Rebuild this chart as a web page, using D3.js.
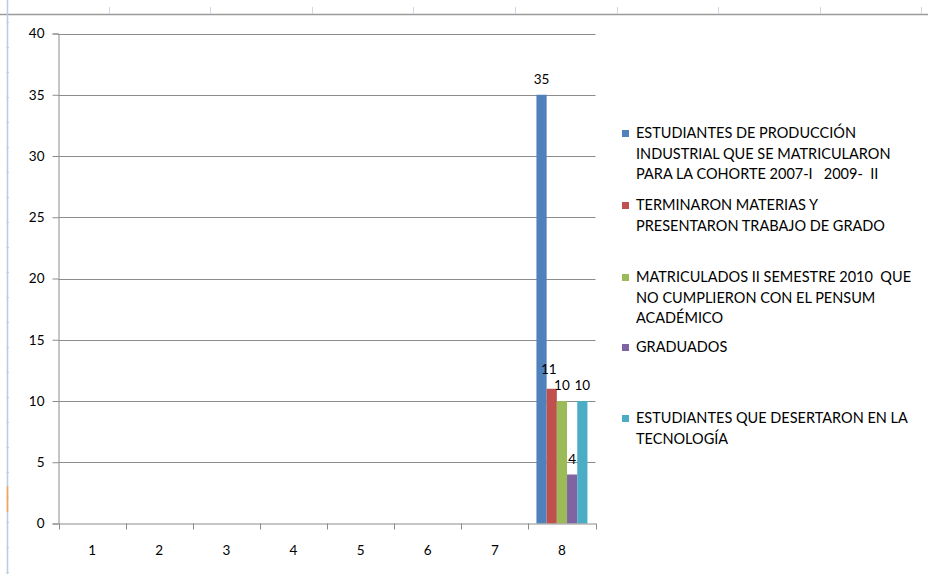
<!DOCTYPE html>
<html>
<head>
<meta charset="utf-8">
<script src="https://cdn.jsdelivr.net/npm/d3@7"></script>
<style>
  html, body { margin: 0; padding: 0; background: #fff; }
  svg { display: block; }
  text { font-family: Lato, "Open Sans", sans-serif; }
</style>
</head>
<body>
<svg id="chart" width="928" height="574"></svg>
<script>
// ---- data ----
const categories = ["1", "2", "3", "4", "5", "6", "7", "8"];
const seriesNames = [
  ["ESTUDIANTES DE PRODUCCIÓN", "INDUSTRIAL QUE SE MATRICULARON", "PARA LA COHORTE 2007-I   2009-  II"],
  ["TERMINARON MATERIAS Y", "PRESENTARON TRABAJO DE GRADO"],
  ["MATRICULADOS II SEMESTRE 2010  QUE", "NO CUMPLIERON CON EL PENSUM", "ACADÉMICO"],
  ["GRADUADOS"],
  ["ESTUDIANTES QUE DESERTARON EN LA", "TECNOLOGÍA"]
];
const seriesColors = ["#4f81bd", "#c0504d", "#9bbb59", "#8064a2", "#4bacc6"];
const s1 = [null, null, null, null, null, null, null, 35];
const s2 = [null, null, null, null, null, null, null, 11];
const s3 = [null, null, null, null, null, null, null, 10];
const s4 = [null, null, null, null, null, null, null, 4];
const s5 = [null, null, null, null, null, null, null, 10];
const seriesValues = [s1, s2, s3, s4, s5];
const yTicks = [0, 5, 10, 15, 20, 25, 30, 35, 40];

// ---- layout ----
const svg = d3.select("#chart");
const plot = { left: 58.5, right: 595.5, top: 33.5, bottom: 523.5 };

// spreadsheet background decoration
const deco = svg.append("g");
deco.append("line").attr("x1", 0).attr("x2", 928).attr("y1", 14.5).attr("y2", 14.5)
  .attr("stroke", "#9a9a9a").attr("stroke-width", 1.5);
d3.range(7, 928, 101.6).forEach(x => {
  deco.append("line").attr("x1", Math.round(x) + 0.5).attr("x2", Math.round(x) + 0.5)
    .attr("y1", 7).attr("y2", 14).attr("stroke", "#d0d7e5");
});
deco.append("line").attr("x1", 7.5).attr("x2", 7.5).attr("y1", 0).attr("y2", 574)
  .attr("stroke", "#b8cce4").attr("stroke-width", 1.5);
d3.range(22, 574, 25).forEach(y => {
  deco.append("line").attr("x1", 6).attr("x2", 9).attr("y1", y + 0.5).attr("y2", y + 0.5)
    .attr("stroke", "#c3d3e8");
});
deco.append("line").attr("x1", 7.5).attr("x2", 7.5).attr("y1", 486).attr("y2", 512)
  .attr("stroke", "#f7a44a").attr("stroke-width", 1.5);

const x = d3.scaleBand().domain(categories).range([plot.left, plot.right]).padding(0);
const gapFrac = 0.12;
const xs = d3.scaleBand().domain(d3.range(seriesValues.length))
  .range([x.bandwidth() * gapFrac, x.bandwidth() * (1 - gapFrac)]).padding(0);
const y = d3.scaleLinear().domain([0, 40]).range([plot.bottom, plot.top]);

// gridlines
svg.append("g").selectAll("line").data(yTicks.filter(d => d > 0)).join("line")
  .attr("x1", plot.left).attr("x2", plot.right)
  .attr("y1", d => Math.round(y(d)) + 0.5).attr("y2", d => Math.round(y(d)) + 0.5)
  .attr("stroke", "#8c8c8c").attr("stroke-width", 1);

// y axis
const yAxis = svg.append("g").attr("transform", `translate(${plot.left},0)`)
  .call(d3.axisLeft(y).tickValues(yTicks).tickSize(6).tickPadding(8));
yAxis.select(".domain").attr("stroke", "#8c8c8c");
yAxis.selectAll(".tick line").attr("stroke", "#8c8c8c");
yAxis.selectAll(".tick text").attr("font-size", 13.5).attr("fill", "#000")
  .style("font-family", "Lato, sans-serif");

// bars
const bars = svg.append("g");
seriesValues.forEach((vals, si) => {
  bars.append("g").selectAll("rect")
    .data(vals.map((v, i) => ({ v, c: categories[i] })).filter(d => d.v != null))
    .join("rect")
    .attr("x", d => x(d.c) + xs(si))
    .attr("width", xs.bandwidth())
    .attr("y", d => y(d.v))
    .attr("height", d => y(0) - y(d.v))
    .attr("fill", seriesColors[si]);
});

// x axis
const xAxis = svg.append("g").attr("transform", `translate(0,${plot.bottom})`)
  .call(d3.axisBottom(x).tickSize(0).tickPadding(22));
xAxis.select(".domain").attr("stroke", "#8c8c8c");
xAxis.selectAll(".tick text").attr("font-size", 13.5).attr("fill", "#000")
  .style("font-family", "Lato, sans-serif");
// category boundary ticks
svg.append("g").selectAll("line").data(categories.concat(["end"])).join("line")
  .attr("x1", (d, i) => Math.round(plot.left + i * x.bandwidth()) + 0.5)
  .attr("x2", (d, i) => Math.round(plot.left + i * x.bandwidth()) + 0.5)
  .attr("y1", plot.bottom).attr("y2", plot.bottom + 6)
  .attr("stroke", "#8c8c8c");

// data labels (Excel nudged the crowded second label up-left)
const labelNudge = [[0, 0], [-3, -4], [0, 0], [0, 0], [0, 0]];
seriesValues.forEach((vals, si) => {
  svg.append("g").selectAll("text")
    .data(vals.map((v, i) => ({ v, c: categories[i] })).filter(d => d.v != null))
    .join("text")
    .attr("x", d => x(d.c) + xs(si) + xs.bandwidth() / 2 + labelNudge[si][0])
    .attr("y", d => y(d.v) - 11 + labelNudge[si][1])
    .attr("text-anchor", "middle")
    .attr("font-size", 13.5).attr("fill", "#000")
    .text(d => d.v);
});

// legend
const legendBaselines = [138, 210, 282, 352, 423];
const lg = svg.append("g");
seriesNames.forEach((lines, si) => {
  const b = legendBaselines[si];
  lg.append("rect").attr("x", 622).attr("y", b - 8).attr("width", 7).attr("height", 7)
    .attr("fill", seriesColors[si]);
  const t = lg.append("text").attr("x", 636).attr("y", b)
    .attr("font-size", 14.5).attr("fill", "#000").attr("xml:space", "preserve");
  lines.forEach((ln, li) => {
    t.append("tspan").attr("x", 636).attr("y", b + li * 20.5).text(ln);
  });
});
</script>
</body>
</html>
